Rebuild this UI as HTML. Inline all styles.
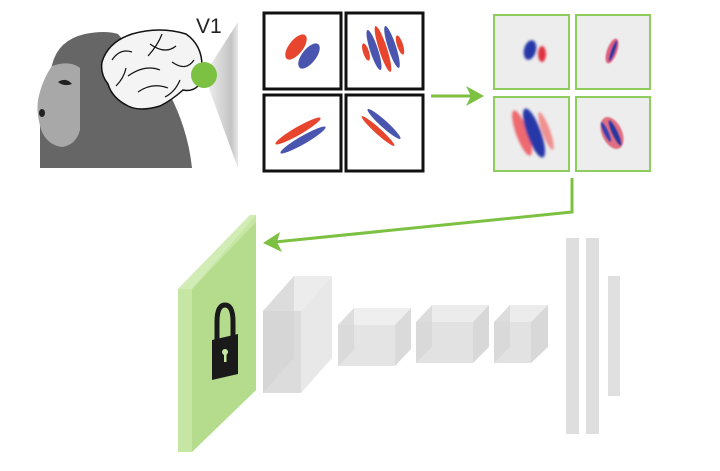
<!DOCTYPE html>
<html><head><style>body{margin:0;background:#fff}svg{display:block}</style></head><body>
<svg width="720" height="471" viewBox="0 0 720 471" xmlns="http://www.w3.org/2000/svg">
<defs>
<linearGradient id="cone" x1="0" x2="1"><stop offset="0" stop-color="#f4f4f4"/><stop offset="0.8" stop-color="#c4c4c4"/><stop offset="1" stop-color="#e8e8e8"/></linearGradient>
<filter id="bl"><feGaussianBlur stdDeviation="1.4"/></filter>
<filter id="bl2"><feGaussianBlur stdDeviation="0.8"/></filter>
</defs>
<!-- cone -->
<polygon points="204,75 238,22 238,168" fill="url(#cone)"/>
<!-- monkey head/body -->
<path d="M40,168 L40,120 Q45,90 52,65 Q58,40 85,34 Q105,30 118,34 L170,95 Q188,130 192,168 Z" fill="#666"/>
<path d="M52,66 Q70,60 80,68 L80,130 Q76,145 62,147 Q48,145 42,132 Q36,115 38,100 Q42,80 52,66 Z" fill="#a8a8a8"/>
<path d="M58,82 Q66,77 72,84 Q64,87 58,82 Z" fill="#222"/>
<ellipse cx="42" cy="113" rx="3" ry="4" fill="#222"/>
<!-- brain -->
<path d="M102,62 Q108,42 132,34 Q160,26 186,34 Q202,45 202,66 L198,86 Q192,92 183,90 Q172,100 160,106 Q140,112 128,106 Q112,98 108,84 Q100,74 102,62 Z" fill="#f4f4f4" stroke="#111" stroke-width="1.5"/>
<path d="M112,60 Q120,48 132,52 M128,76 Q145,64 160,70 M150,44 Q165,55 176,46 M138,92 Q152,82 168,88 M172,62 Q186,72 194,60 M116,86 Q124,78 126,68 M162,34 Q158,45 148,56 M180,80 Q175,92 165,97" stroke="#111" stroke-width="1.2" fill="none"/>
<circle cx="204" cy="75" r="13" fill="#7cc142"/>
<text x="196" y="33" font-family="Liberation Sans, sans-serif" font-size="21" fill="#222">V1</text>
<!-- filter boxes -->
<g fill="#fff" stroke="#111" stroke-width="3">
<rect x="264" y="13" width="77" height="76"/><rect x="346" y="13" width="77" height="76"/>
<rect x="264" y="95" width="77" height="76"/><rect x="346" y="95" width="77" height="76"/>
</g>
<g>
<ellipse cx="296" cy="47" rx="7" ry="15" transform="rotate(38 296 47)" fill="#e8452f"/>
<ellipse cx="309" cy="56" rx="7" ry="15" transform="rotate(38 309 56)" fill="#4a55b0"/>
<ellipse cx="366" cy="52" rx="3" ry="9" transform="rotate(-18 366 52)" fill="#e8452f"/>
<ellipse cx="374" cy="50" rx="4" ry="21" transform="rotate(-18 374 50)" fill="#4a55b0"/>
<ellipse cx="383" cy="49" rx="4" ry="24" transform="rotate(-18 383 49)" fill="#e8452f"/>
<ellipse cx="392" cy="47" rx="4" ry="22" transform="rotate(-18 392 47)" fill="#4a55b0"/>
<ellipse cx="400" cy="45" rx="3" ry="10" transform="rotate(-18 400 45)" fill="#e8452f"/>
<ellipse cx="298" cy="131" rx="26" ry="4" transform="rotate(-30 298 131)" fill="#e8452f"/>
<ellipse cx="303" cy="140" rx="26" ry="4" transform="rotate(-30 303 140)" fill="#4a55b0"/>
<ellipse cx="384" cy="124" rx="22" ry="3.5" transform="rotate(42 384 124)" fill="#4a55b0"/>
<ellipse cx="378" cy="131" rx="22" ry="3" transform="rotate(42 378 131)" fill="#e8452f"/>
</g>
<!-- arrow 1 -->
<line x1="431" y1="96" x2="478" y2="96" stroke="#7cc142" stroke-width="3"/>
<polygon points="484,96 466,86 471,96 466,106" fill="#7cc142"/>
<!-- learned filters -->
<g fill="#ededed" stroke="#8fcc5e" stroke-width="2">
<rect x="494" y="15" width="75" height="74"/><rect x="576" y="15" width="74" height="74"/>
<rect x="494" y="97" width="75" height="74"/><rect x="576" y="97" width="74" height="74"/>
</g>
<g filter="url(#bl)">
<ellipse cx="530" cy="50" rx="6" ry="10" transform="rotate(15 530 50)" fill="#2838a8"/>
<ellipse cx="542" cy="54" rx="4" ry="8" fill="#e03040"/>
<ellipse cx="522" cy="133" rx="6" ry="24" transform="rotate(-20 522 133)" fill="#ee6a70"/>
<ellipse cx="534" cy="133" rx="7" ry="26" transform="rotate(-20 534 133)" fill="#2838a8"/>
<ellipse cx="546" cy="131" rx="4" ry="20" transform="rotate(-20 546 131)" fill="#f09090"/>
</g>
<g filter="url(#bl2)">
<ellipse cx="612" cy="51" rx="5" ry="13" transform="rotate(20 612 51)" fill="#e06080"/>
<ellipse cx="613" cy="51" rx="2" ry="11" transform="rotate(20 613 51)" fill="#2838a0"/>
<ellipse cx="612" cy="133" rx="10" ry="17" transform="rotate(-25 612 133)" fill="#e07080"/>
<ellipse cx="615" cy="133" rx="3" ry="14" transform="rotate(-25 615 133)" fill="#2838a0"/>
<ellipse cx="606" cy="132" rx="2.5" ry="11" transform="rotate(-25 606 132)" fill="#3040b0"/>
</g>
<!-- arrow 2 -->
<polyline points="572,178 572,212 275,242" fill="none" stroke="#7cc142" stroke-width="3"/>
<polygon points="263,243 280,232 277,242 282,252" fill="#7cc142"/>
<!-- green plate -->
<polygon points="178,289 250,215 256,215 256,390 192,452 178,452" fill="#c6e6a4"/>
<polygon points="192,289 256,222 256,390 192,452" fill="#b5dc8c"/>
<polygon points="178,289 250,215 256,215 192,289" fill="#d2ecb6"/>
<!-- lock -->
<path d="M217,340 L217,322 Q217,305 225,305 Q233,305 233,322 L233,336" fill="none" stroke="#1a1a1a" stroke-width="5"/>
<polygon points="212,340 238,334 238,374 212,380" fill="#1a1a1a"/>
<circle cx="225" cy="352" r="3" fill="#c6e6a4"/>
<rect x="224" y="352" width="2.5" height="10" fill="#c6e6a4"/>
<!-- cubes -->
<g>
<polygon points="263,311 294,276 332,276 301,311" fill="#ececec"/>
<rect x="263" y="311" width="38" height="82" fill="#dcdcdc"/>
<polygon points="263,311 294,276 294,358 263,393" fill="#d2d2d2" opacity="0.6"/>
<polygon points="301,311 332,276 332,358 301,393" fill="#e8e8e8"/>
<polygon points="338,325 354,308 411,308 395,325" fill="#efefef"/>
<rect x="338" y="325" width="57" height="41" fill="#e4e4e4"/>
<polygon points="338,325 354,308 354,350 338,366" fill="#d6d6d6" opacity="0.7"/>
<polygon points="395,325 411,308 411,349 395,366" fill="#dadada"/>
<polygon points="416,322 432,305 489,305 473,322" fill="#ececec"/>
<rect x="416" y="322" width="57" height="41" fill="#e2e2e2"/>
<polygon points="416,322 432,305 432,347 416,363" fill="#d6d6d6" opacity="0.7"/>
<polygon points="473,322 489,305 489,347 473,363" fill="#d8d8d8"/>
<polygon points="494,322 510,305 548,305 531,322" fill="#ececec"/>
<rect x="494" y="322" width="37" height="41" fill="#e2e2e2"/>
<polygon points="494,322 510,305 510,347 494,363" fill="#d6d6d6" opacity="0.7"/>
<polygon points="531,322 548,305 548,347 531,363" fill="#d8d8d8"/>
</g>
<rect x="566" y="238" width="13" height="196" fill="#dedede"/>
<rect x="586" y="238" width="13" height="196" fill="#dedede"/>
<rect x="608" y="276" width="12" height="120" fill="#e0e0e0"/>
</svg>
</body></html>
